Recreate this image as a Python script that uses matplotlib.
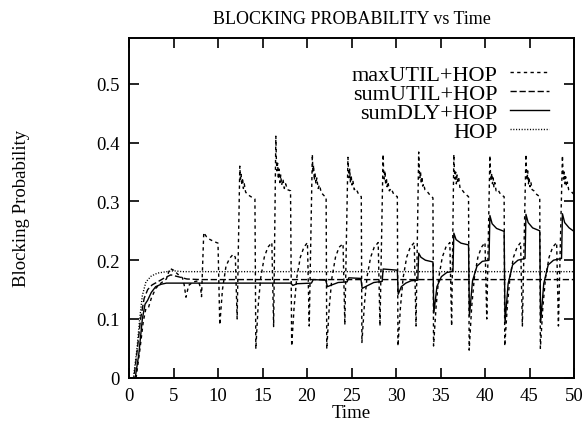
import matplotlib
matplotlib.use("Agg")
import matplotlib.pyplot as plt

# ---------------- data ----------------
title = "BLOCKING PROBABILITY vs Time"
xlabel = "Time"
ylabel = "Blocking Probability"
series_names = ["maxUTIL+HOP", "sumUTIL+HOP", "sumDLY+HOP", "HOP"]

xticks = [0, 5, 10, 15, 20, 25, 30, 35, 40, 45, 50]
yticks = [0, 0.1, 0.2, 0.3, 0.4, 0.5]
ytick_labels = ["0", "0.1", "0.2", "0.3", "0.4", "0.5"]

max_t = [0.0, 0.8, 1.2, 1.6, 1.9, 2.2, 2.5, 3.0, 3.5, 4.2, 4.6, 5.0, 5.5, 6.0, 6.2, 6.4, 6.7, 7.2, 7.8,
         8.05, 8.15, 8.4, 8.7, 9.0, 9.5, 10.0, 10.2, 10.5, 10.9, 11.3, 11.7, 11.95, 12.15,
         12.45, 12.52, 12.6, 12.68, 12.76, 12.85, 12.95, 13.1, 13.3, 13.7, 14.15, 14.25, 14.5, 14.8, 15.2, 15.6, 16.05, 16.25,
         16.5, 16.56, 16.62, 16.7, 16.78, 16.86, 16.95, 17.05, 17.15, 17.3, 17.45, 17.6, 17.8, 18.15, 18.28, 18.55, 18.85, 19.25, 19.65, 20.05, 20.25,
         20.6, 20.66, 20.74, 20.82, 20.9, 21.0, 21.1, 21.25, 21.4, 21.6, 21.9, 22.15, 22.22, 22.5, 22.8, 23.2, 23.6, 24.05, 24.25,
         24.6, 24.66, 24.73, 24.8, 24.88, 24.96, 25.05, 25.15, 25.3, 25.5, 25.8, 26.1, 26.17, 26.45, 26.75, 27.15, 27.55, 28.0, 28.2,
         28.55, 28.61, 28.68, 28.76, 28.84, 28.92, 29.0, 29.1, 29.25, 29.45, 29.75, 30.15, 30.22, 30.5, 30.8, 31.2, 31.6, 32.05, 32.25,
         32.55, 32.61, 32.68, 32.76, 32.84, 32.92, 33.0, 33.1, 33.25, 33.45, 33.75, 34.15, 34.22, 34.5, 34.8, 35.2, 35.6, 36.05, 36.25,
         36.5, 36.56, 36.63, 36.7, 36.78, 36.86, 36.94, 37.05, 37.2, 37.4, 37.7, 38.15, 38.22, 38.5, 38.8, 39.2, 39.6, 40.0, 40.2,
         40.55, 40.61, 40.68, 40.76, 40.84, 40.92, 41.0, 41.1, 41.25, 41.45, 41.75, 42.15, 42.22, 42.5, 42.8, 43.2, 43.6, 44.0, 44.2,
         44.6, 44.66, 44.73, 44.8, 44.88, 44.96, 45.05, 45.15, 45.3, 45.5, 45.8, 46.15, 46.22, 46.5, 46.8, 47.2, 47.6, 48.05, 48.25,
         48.7, 48.76, 48.83, 48.9, 48.98, 49.06, 49.15, 49.25, 49.4, 49.6, 50.0]
max_v = [0.0, 0.0, 0.045, 0.095, 0.118, 0.12, 0.135, 0.152, 0.16, 0.168, 0.186, 0.183, 0.176, 0.17, 0.158, 0.137, 0.157, 0.163, 0.165,
         0.152, 0.138, 0.247, 0.24, 0.236, 0.232, 0.229, 0.09, 0.15, 0.19, 0.203, 0.21, 0.205, 0.1,
         0.36, 0.338, 0.346, 0.328, 0.34, 0.322, 0.33, 0.316, 0.312, 0.308, 0.304, 0.049, 0.12, 0.17, 0.205, 0.222, 0.23, 0.087,
         0.411, 0.37, 0.352, 0.365, 0.338, 0.355, 0.332, 0.345, 0.328, 0.338, 0.322, 0.33, 0.32, 0.318, 0.054, 0.12, 0.17, 0.205, 0.222, 0.23, 0.088,
         0.38, 0.35, 0.362, 0.336, 0.348, 0.33, 0.34, 0.322, 0.328, 0.315, 0.31, 0.307, 0.049, 0.12, 0.17, 0.205, 0.222, 0.228, 0.09,
         0.375, 0.352, 0.34, 0.355, 0.332, 0.345, 0.328, 0.336, 0.32, 0.322, 0.312, 0.308, 0.06, 0.125, 0.172, 0.205, 0.222, 0.23, 0.088,
         0.38, 0.35, 0.338, 0.352, 0.328, 0.34, 0.325, 0.333, 0.318, 0.322, 0.312, 0.308, 0.054, 0.12, 0.17, 0.205, 0.222, 0.23, 0.088,
         0.384, 0.355, 0.34, 0.35, 0.33, 0.342, 0.326, 0.33, 0.32, 0.318, 0.312, 0.306, 0.054, 0.12, 0.17, 0.205, 0.222, 0.23, 0.088,
         0.38, 0.352, 0.338, 0.35, 0.33, 0.345, 0.334, 0.34, 0.322, 0.32, 0.314, 0.308, 0.047, 0.12, 0.17, 0.205, 0.222, 0.23, 0.1,
         0.378, 0.35, 0.336, 0.348, 0.33, 0.34, 0.324, 0.332, 0.318, 0.32, 0.312, 0.308, 0.054, 0.12, 0.17, 0.205, 0.222, 0.23, 0.088,
         0.38, 0.35, 0.336, 0.352, 0.33, 0.34, 0.325, 0.333, 0.32, 0.318, 0.312, 0.308, 0.05, 0.12, 0.17, 0.205, 0.222, 0.23, 0.088,
         0.378, 0.352, 0.338, 0.35, 0.33, 0.342, 0.326, 0.333, 0.32, 0.318, 0.312]

sumutil_t = [0.0, 0.55, 0.95, 1.3, 1.7, 2.1, 2.6, 3.2, 4.0, 4.7, 5.5, 6.5, 8.0, 50.0]
sumutil_v = [0.0, 0.0, 0.05, 0.1, 0.135, 0.15, 0.158, 0.163, 0.17, 0.175, 0.172, 0.168, 0.167, 0.167]

sumdly_t = [0.0, 0.7, 1.1, 1.5, 1.8, 2.1, 2.5, 3.0, 3.6, 4.2, 16.4, 18.2, 18.4, 18.9, 20.5, 20.7, 22.1, 22.3, 22.8, 23.5,
            24.5, 24.7, 26.05, 26.2, 26.7, 27.5, 28.45,
            28.55, 30.15, 30.25, 30.6, 31.1, 31.7, 32.45,
            32.55, 32.8, 33.3, 34.15, 34.25, 34.6, 35.1, 35.7, 36.4,
            36.5, 36.75, 37.3, 38.15, 38.25, 38.6, 39.1, 39.7, 40.45,
            40.55, 40.8, 41.3, 42.15, 42.25, 42.6, 43.1, 43.7, 44.5,
            44.6, 44.85, 45.35, 46.15, 46.25, 46.6, 47.1, 47.7, 48.6,
            48.7, 48.95, 49.45, 50.0]
sumdly_v = [0.0, 0.0, 0.04, 0.1, 0.125, 0.132, 0.145, 0.155, 0.159, 0.161, 0.161, 0.161, 0.157, 0.16, 0.161, 0.167, 0.166, 0.155, 0.158, 0.162,
            0.163, 0.17, 0.169, 0.152, 0.156, 0.162, 0.164,
            0.185, 0.183, 0.142, 0.155, 0.161, 0.165, 0.166,
            0.212, 0.205, 0.2, 0.197, 0.11, 0.155, 0.172, 0.179, 0.181,
            0.246, 0.235, 0.229, 0.226, 0.105, 0.165, 0.19, 0.198, 0.2,
            0.276, 0.262, 0.254, 0.249, 0.093, 0.16, 0.192, 0.2, 0.203,
            0.278, 0.264, 0.255, 0.25, 0.094, 0.16, 0.192, 0.2, 0.203,
            0.279, 0.264, 0.255, 0.249]

hop_t = [0.0, 0.5, 0.9, 1.2, 1.5, 1.9, 2.5, 3.2, 4.0, 5.0, 6.0, 50.0]
hop_v = [0.0, 0.0, 0.05, 0.1, 0.14, 0.163, 0.173, 0.178, 0.18, 0.182, 0.1805, 0.1805]

# ---------------- plot ----------------
plt.rcParams['font.family'] = ['Liberation Serif', 'DejaVu Serif']
fig = plt.figure(figsize=(5.87, 4.31), dpi=100)
ax = fig.add_axes([129 / 587, 1 - 378.75 / 431, 445 / 587, (378.75 - 39) / 431])

lw = 1.0
ax.plot(max_t, max_v, color='black', lw=lw, dashes=(2.4, 2.4), label=series_names[0])
ax.plot(sumutil_t, sumutil_v, color='black', lw=lw, dashes=(4.5, 2.0), label=series_names[1])
ax.plot(sumdly_t, sumdly_v, color='black', lw=lw, label=series_names[2])
ax.plot(hop_t, hop_v, color='black', lw=lw, dashes=(0.8, 1.2), label=series_names[3])

ax.set_xlim(0, 50)
ax.set_ylim(0, 0.578)
ax.set_xticks(xticks)
ax.set_yticks(yticks)
ax.set_yticklabels(ytick_labels)
ax.tick_params(direction='in', length=7, width=1.2, top=True, right=True,
               labelsize=13.5, pad=7, colors='black')
for s in ax.spines.values():
    s.set_linewidth(1.4)

ax.set_title(title, fontsize=13, pad=11)
ax.set_xlabel(xlabel, fontsize=13.5, labelpad=0)
ax.set_ylabel(ylabel, fontsize=13.5)
ax.yaxis.set_label_coords(-0.222, 0.5)

leg = ax.legend(loc='upper right', frameon=False, markerfirst=False, fontsize=16,
                handlelength=1.75, handletextpad=0.55, labelspacing=-0.07,
                borderaxespad=0.3, bbox_to_anchor=(0.978, 0.968))

fig.savefig("out.png", dpi=100)
